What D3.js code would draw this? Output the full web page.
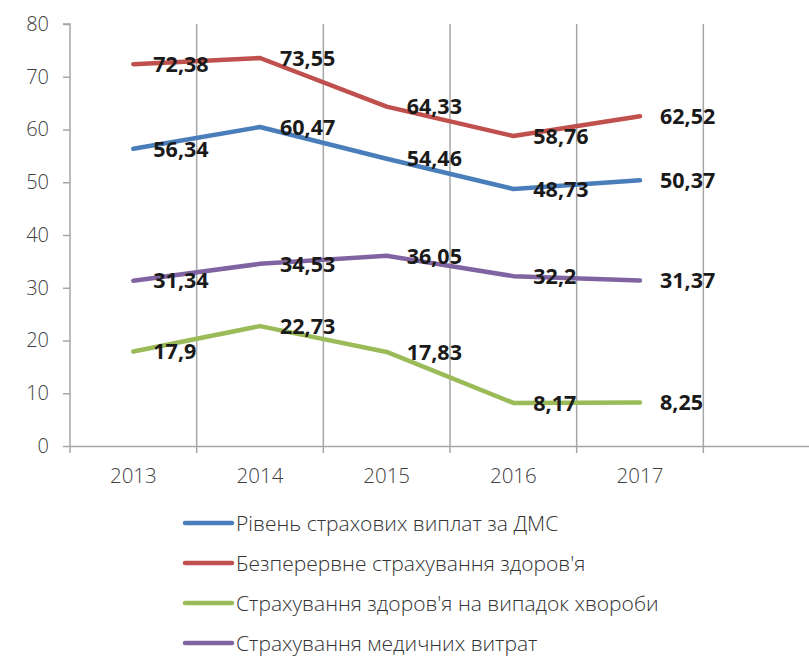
<!DOCTYPE html>
<html>
<head>
<meta charset="utf-8">
<script src="https://cdn.jsdelivr.net/npm/d3@7"></script>
<style>
  html, body { margin: 0; padding: 0; background: #fff; }
  svg { display: block; }
</style>
</head>
<body>
<svg id="chart" width="809" height="656"></svg>
<script>
// Categories (the last slot is an empty band on the category axis)
const years = ["2013", "2014", "2015", "2016", "2017", ""];
const yTicks = [0, 10, 20, 30, 40, 50, 60, 70, 80];

const seriesNames = [
  "Рівень страхових виплат за ДМС",
  "Безперервне страхування здоров'я",
  "Страхування здоров'я на випадок хвороби",
  "Страхування медичних витрат"
];
const seriesColors = ["#4a7ebb", "#c0504d", "#9bbb59", "#8064a2"];

const paymentLevel = [56.34, 60.47, 54.46, 48.73, 50.37];
const continuousHealth = [72.38, 73.55, 64.33, 58.76, 62.52];
const illnessHealth = [17.9, 22.73, 17.83, 8.17, 8.25];
const medicalExpenses = [31.34, 34.53, 36.05, 32.2, 31.37];

const seriesValues = [paymentLevel, continuousHealth, illnessHealth, medicalExpenses];

const svg = d3.select("#chart");
const margin = { left: 70, top: 24, bottom: 210 };
const plotRight = 830;
const plotBottom = 656 - margin.bottom;

const x = d3.scaleBand().domain(years).range([margin.left, plotRight]).paddingInner(0).paddingOuter(0);
const y = d3.scaleLinear().domain([0, 80]).range([plotBottom, margin.top]);

const gridColor = "#a6a6a6";
const axisFont = "'Open Sans', sans-serif";

// Vertical gridlines between category bands
const boundaries = years.slice(1).map(d => x(d)).concat([plotRight]);
svg.append("g").selectAll("line").data(boundaries).join("line")
  .attr("x1", d => d).attr("x2", d => d)
  .attr("y1", margin.top).attr("y2", plotBottom)
  .attr("stroke", gridColor).attr("stroke-width", 1.5);

// Y axis
const yAxis = svg.append("g").attr("transform", `translate(${margin.left},0)`)
  .call(d3.axisLeft(y).tickValues(yTicks).tickSize(7).tickPadding(14).tickFormat(d3.format("d")));
yAxis.select(".domain").attr("stroke", gridColor).attr("stroke-width", 1.5).attr("d", `M-7,${y(80)}H0V${y(0)}`);
yAxis.selectAll(".tick line").attr("stroke", gridColor).attr("stroke-width", 1.5);
yAxis.selectAll(".tick text").attr("fill", "#404040").attr("font-size", 20)
  .attr("font-family", axisFont).attr("font-weight", 300);

// X axis with tick marks at band boundaries
const xAxis = svg.append("g").attr("transform", `translate(0,${plotBottom})`)
  .call(d3.axisBottom(x).tickSize(0).tickPadding(22));
xAxis.select(".domain").attr("stroke", gridColor).attr("stroke-width", 1.5);
xAxis.selectAll(".tick text").attr("fill", "#404040").attr("font-size", 20.5)
  .attr("font-family", axisFont).attr("font-weight", 300);
xAxis.append("g").selectAll("line").data([margin.left].concat(boundaries)).join("line")
  .attr("x1", d => d).attr("x2", d => d).attr("y1", 0).attr("y2", 7)
  .attr("stroke", gridColor).attr("stroke-width", 1.5);

// Series lines
const line = d3.line()
  .x((d, i) => x(years[i]) + x.bandwidth() / 2)
  .y(d => y(d));

seriesValues.forEach((vals, s) => {
  svg.append("path").datum(vals)
    .attr("d", line)
    .attr("fill", "none")
    .attr("stroke", seriesColors[s])
    .attr("stroke-width", 4.5)
    .attr("stroke-linecap", "round")
    .attr("stroke-linejoin", "round");
});

// Value labels to the right of each point
const fmt = v => String(v).replace(".", ",");
seriesValues.forEach((vals) => {
  svg.append("g").selectAll("text").data(vals).join("text")
    .attr("x", (d, i) => x(years[i]) + x.bandwidth() / 2 + 20)
    .attr("y", d => y(d))
    .attr("dy", "0.36em")
    .attr("fill", "#1a1a1a")
    .attr("font-size", 21.5)
    .attr("font-weight", 700)
    .attr("font-family", axisFont)
    .text(d => fmt(d));
});

// Legend
const legend = svg.append("g").attr("transform", "translate(185,523)");
seriesNames.forEach((name, i) => {
  const g = legend.append("g").attr("transform", `translate(0,${i * 40})`);
  g.append("line").attr("x1", 0).attr("x2", 47).attr("y1", 0).attr("y2", 0)
    .attr("stroke", seriesColors[i]).attr("stroke-width", 4.5).attr("stroke-linecap", "round");
  g.append("text").attr("x", 51).attr("y", 0).attr("dy", "0.36em")
    .attr("fill", "#333").attr("font-size", 21).attr("font-family", axisFont).attr("font-weight", 300)
    .text(name);
});
</script>
</body>
</html>
